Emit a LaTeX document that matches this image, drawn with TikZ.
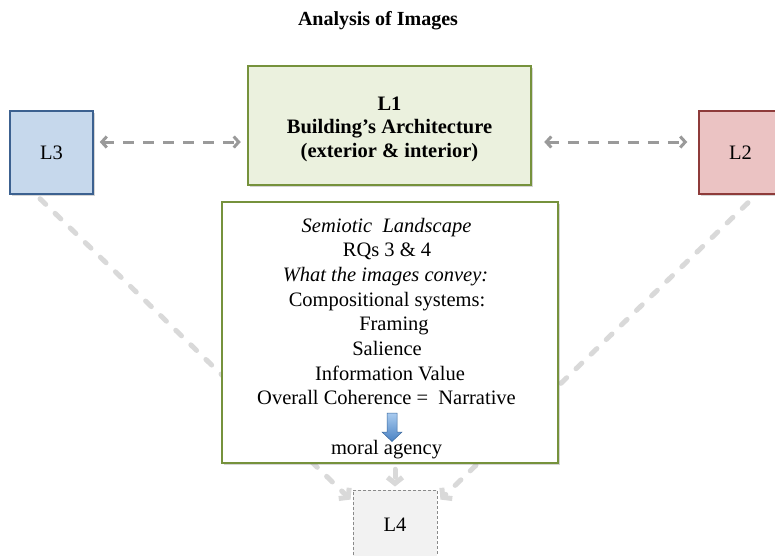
\documentclass[tikz,border=0pt]{standalone}
\usepackage{fontspec}
\setmainfont{Liberation Serif}
\usetikzlibrary{arrows.meta,calc,shadows}

\definecolor{archfill}{HTML}{EBF1DE}
\definecolor{archline}{HTML}{76923C}
\definecolor{bluefill}{HTML}{C6D8EC}
\definecolor{blueline}{HTML}{3C6190}
\definecolor{redfill}{HTML}{EBC3C3}
\definecolor{redline}{HTML}{8E3B3A}
\definecolor{greyfill}{HTML}{F2F2F2}
\definecolor{greyline}{HTML}{8A8A8A}
\definecolor{linkgrey}{HTML}{9A9A9A}
\definecolor{fadegrey}{HTML}{D9D9D9}
\definecolor{arrowtop}{HTML}{A9CBEF}
\definecolor{arrowbot}{HTML}{4A82C4}

\begin{document}
\begin{tikzpicture}[x=1pt,y=-1pt,
  bigfont/.style={font=\fontsize{20.5}{24.5}\selectfont},
  line/.style={bigfont, inner sep=0pt, anchor=base},
  softshadow/.style={drop shadow={shadow xshift=1.5pt, shadow yshift=-2pt, opacity=0.3, fill=black!55}},
  levelbox/.style={bigfont, inner sep=0pt, minimum width=83pt, minimum height=83pt},
  sidelink/.style={draw=linkgrey, line width=3pt, dash pattern=on 11pt off 9pt,
    {Straight Barb[length=5pt,width=11pt]}-{Straight Barb[length=5pt,width=11pt]}},
  feedlink/.style={draw=fadegrey, line width=5pt, line cap=round, dash pattern=on 8pt off 13pt,
    -{Straight Barb[length=6pt,width=15pt]}},
]
\useasboundingbox (0,0) rectangle (775,555);
\clip (0,0) rectangle (775,555);

% title
\node[line, font=\fontsize{20}{24}\selectfont\bfseries] (title) at (378,25) {Analysis of Images};

% the four levels
\node[levelbox, draw=blueline, line width=1.5pt, fill=bluefill, softshadow] (L3) at (51.5,152.5) {L3};
\node[levelbox, draw=redline, line width=1.5pt, fill=redfill, softshadow] (L2) at (740.5,152.5) {L2};
\node[draw=archline, line width=2.5pt, fill=archfill, softshadow,
      minimum width=283pt, minimum height=119pt, inner sep=0pt] (L1) at (389.5,125.5) {};
\node[levelbox, minimum width=84pt, minimum height=70pt, draw=greyline, line width=0.9pt,
      dash pattern=on 3pt off 2pt, fill=greyfill] (L4) at (395,525) {L4};

\node[line, font=\fontsize{20.5}{24.5}\selectfont\bfseries] (l1a) at (389.5,110) {L1};
\node[line, font=\fontsize{20.5}{24.5}\selectfont\bfseries] (l1b) at (389.5,133.5) {Building’s Architecture};
\node[line, font=\fontsize{20.5}{24.5}\selectfont\bfseries] (l1c) at (389.5,157) {(exterior \& interior)};

% links between the levels
\draw[sidelink] ($(L3.east)+(6,-10.5)$) -- ($(L1.west)+(-6,16.5)$);
\draw[sidelink] ($(L1.east)+(12,16.5)$) -- ($(L2.west)+(-11,-10.5)$);
\draw[feedlink] ($(L3.south)+(-11.5,4)$) -- ($(L4.north west)+(-2,10)$);
\draw[feedlink] ($(L2.south)+(7.5,8)$) -- ($(L4.north east)+(3,10)$);

% semiotic landscape box
\node[draw=archline, line width=2.5pt, fill=white, softshadow,
      minimum width=336pt, minimum height=261pt, inner sep=0pt] (sem) at (390,332.5) {};
\draw[feedlink] ($(sem.south)+(5,5)$) -- ($(L4.north)+(0,-3)$);

\node[line] (s1) at (386.5,232) {\itshape Semiotic\ \ Landscape};
\node[line] (s2) at (387,256.7) {RQs 3 \& 4};
\node[line] (s3) at (385.5,281.4) {\itshape What the images convey:};
\node[line] (s4) at (387,306.1) {Compositional systems:};
\node[line] (s5) at (394,330.8) {Framing};
\node[line] (s6) at (387,355.5) {Salience};
\node[line] (s7) at (390,380.2) {Information Value};
\node[line] (s8) at (386.5,404.9) {Overall Coherence =\ \ Narrative};
\node[line] (s9) at (386.5,454.3) {moral agency};

% small block arrow down to moral agency
\path[draw=arrowbot!80!black, line width=0.5pt, top color=arrowtop, bottom color=arrowbot]
  (387,413) -- (397,413) -- (397,432) -- (402,432) -- (392,441.5) -- (382,432) -- (387,432) -- cycle;
\end{tikzpicture}
\end{document}
